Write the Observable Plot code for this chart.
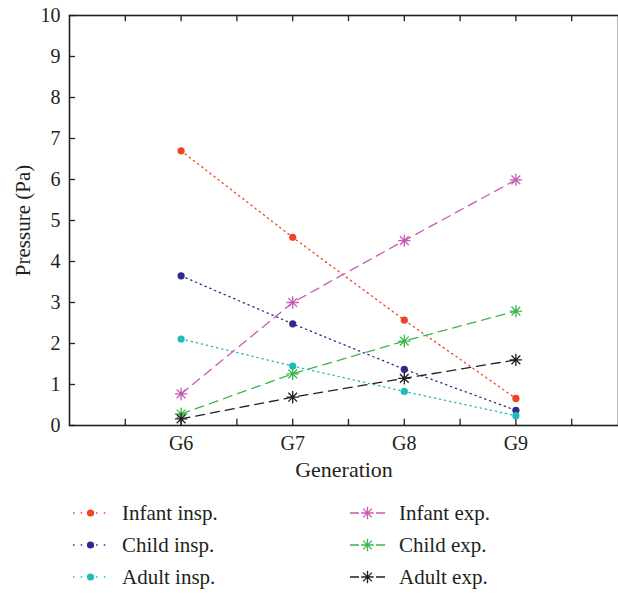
<!DOCTYPE html>
<html><head><meta charset="utf-8">
<script src="https://cdn.jsdelivr.net/npm/d3@7"></script>
<script src="https://cdn.jsdelivr.net/npm/@observablehq/plot@0.6"></script>
<style>
body{margin:0;background:#fff;overflow:hidden;font-family:"Liberation Serif",serif;}
#wrap{position:relative;width:618px;height:595px;overflow:hidden;background:#fff}
#legend{position:absolute;left:73px;top:497px;display:grid;grid-template-columns:277px 240px;grid-template-rows:repeat(3,32px);grid-auto-flow:column;font-size:21px;color:#231f20}
.item{display:flex;align-items:center;white-space:nowrap}
.item svg{margin-right:14px;overflow:visible}
</style></head><body><div id="wrap"><div id="chart"></div><div id="legend"></div></div>
<script>
const generations = ["G6", "G7", "G8", "G9"];
const infantInsp = [6.70, 4.59, 2.57, 0.66];
const childInsp  = [3.65, 2.48, 1.37, 0.37];
const adultInsp  = [2.11, 1.45, 0.83, 0.24];
const infantExp  = [0.77, 3.00, 4.51, 5.99];
const childExp   = [0.28, 1.26, 2.06, 2.79];
const adultExp   = [0.16, 0.69, 1.15, 1.60];
const seriesNames = ["Infant insp.", "Child insp.", "Adult insp.", "Infant exp.", "Child exp.", "Adult exp."];
const seriesValues = [infantInsp, childInsp, adultInsp, infantExp, childExp, adultExp];
const seriesColors = ["#ef4424", "#2e2a8e", "#1cbdb8", "#c65bb3", "#3cb64b", "#231f20"];
const seriesKinds = ["insp", "insp", "insp", "exp", "exp", "exp"];
const yTicks = [0, 1, 2, 3, 4, 5, 6, 7, 8, 9, 10];
const xTicks = [0.5, 1, 1.5, 2, 2.5, 3, 3.5, 4, 4.5];
const xLabelTicks = [1, 2, 3, 4];

const ink = "#231f20";
const asterisk8 = {
  draw(ctx, size) {
    const r = Math.sqrt(size / Math.PI);
    for (let k = 0; k < 4; k++) {
      const a = k * Math.PI / 4;
      ctx.moveTo(r * Math.cos(a), r * Math.sin(a));
      ctx.lineTo(-r * Math.cos(a), -r * Math.sin(a));
    }
  }
};

const marks = [];
seriesNames.forEach((name, s) => {
  const data = seriesValues[s].map((v, i) => ({x: i + 1, y: v, name}));
  const insp = seriesKinds[s] === "insp";
  marks.push(Plot.line(data, {x: "x", y: "y", stroke: seriesColors[s], strokeWidth: 1.3,
    strokeDasharray: insp ? "1.3,3.9" : "9,6"}));
});
seriesNames.forEach((name, s) => {
  const data = seriesValues[s].map((v, i) => ({x: i + 1, y: v, name}));
  const insp = seriesKinds[s] === "insp";
  if (insp) marks.push(Plot.dot(data, {x: "x", y: "y", r: 3.6, fill: seriesColors[s], stroke: "none"}));
  else marks.push(Plot.dot(data, {x: "x", y: "y", r: 6.2, symbol: asterisk8, fill: "none", stroke: seriesColors[s], strokeWidth: 1.3}));
});

const chart = Plot.plot({
  width: 618, height: 485,
  marginTop: 15, marginBottom: 60, marginLeft: 69, marginRight: 0,
  style: {fontFamily: "'Liberation Serif', serif", fontSize: "20px", color: ink, background: "#fff"},
  x: {domain: [0, 5], range: [69, 627]},
  y: {domain: [0, 10]},
  marks: [
    Plot.ruleY(yTicks, {y: d => d, x1: 0, x2: 0.054, stroke: ink, strokeWidth: 1.3}),
    Plot.ruleX(xTicks, {x: d => d, y1: 0, y2: 0.15, stroke: ink, strokeWidth: 1.3}),
    Plot.ruleX(xTicks, {x: d => d, y1: 10, y2: 9.85, stroke: ink, strokeWidth: 1.3}),
    Plot.frame({stroke: ink, strokeWidth: 1.6}),
    Plot.axisY(yTicks, {tickSize: 0, tickPadding: 9, fontSize: 20, label: null}),
    Plot.axisY({ticks: [], tickSize: 0, label: "Pressure (Pa)", labelAnchor: "center", labelOffset: 54, labelArrow: "none", fontSize: 21}),
    Plot.axisX(xLabelTicks, {tickSize: 0, tickPadding: 10, tickFormat: d => generations[d - 1], fontSize: 20, label: null}),
    Plot.axisX({ticks: [], tickSize: 0, label: "Generation", labelAnchor: "center", labelOffset: 51, labelArrow: "none", fontSize: 22}),
    ...marks
  ]
});
document.getElementById("chart").appendChild(chart);

// legend
const legend = d3.select("#legend");
seriesNames.forEach((name, s) => {
  const insp = seriesKinds[s] === "insp";
  const item = legend.append("div").attr("class", "item");
  const sv = item.append("svg").attr("width", 35).attr("height", 16);
  sv.append("line").attr("x1", 0).attr("x2", 35).attr("y1", 8).attr("y2", 8)
    .attr("stroke", seriesColors[s]).attr("stroke-width", 1.3)
    .attr("stroke-dasharray", insp ? "1.5,6.2" : "9,17");
  if (insp) {
    sv.append("circle").attr("cx", 17.5).attr("cy", 8).attr("r", 3.6).attr("fill", seriesColors[s]);
  } else {
    const p = d3.path();
    asterisk8.draw(p, 6.2 * 6.2 * Math.PI);
    sv.append("path").attr("d", p.toString()).attr("transform", "translate(17.5,8)")
      .attr("fill", "none").attr("stroke", seriesColors[s]).attr("stroke-width", 1.3);
  }
  item.append("span").text(name);
});
</script></body></html>
